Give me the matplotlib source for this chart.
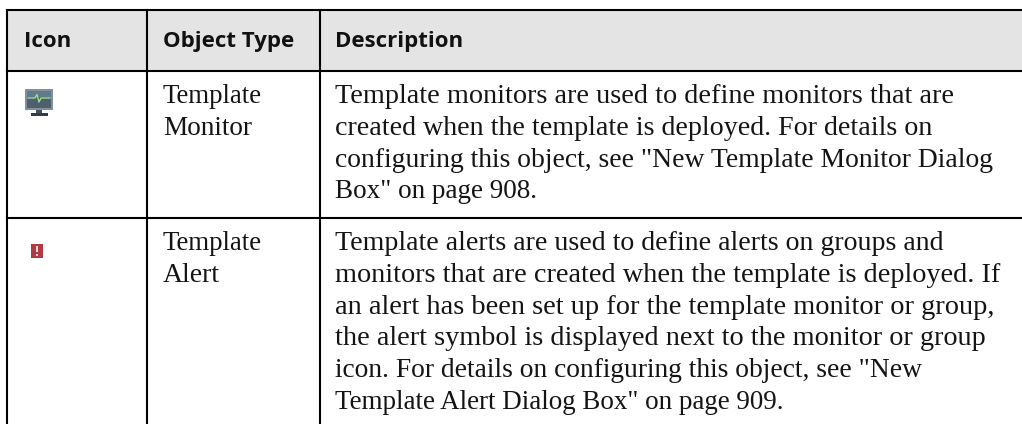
import matplotlib
matplotlib.use("Agg")
import matplotlib.pyplot as plt
from matplotlib.patches import Rectangle

W, H = 1022, 424
FONT = ["Open Sans", "DejaVu Sans"]
SERIF = ["Liberation Serif", "DejaVu Serif"]

headers = ["Icon", "Object Type", "Description"]
types = [["Template", "Monitor"], ["Template", "Alert"]]
desc = [
    ["Template monitors are used to define monitors that are",
     "created when the template is deployed. For details on",
     "configuring this object, see \"New Template Monitor Dialog",
     "Box\" on page 908."],
    ["Template alerts are used to define alerts on groups and",
     "monitors that are created when the template is deployed. If",
     "an alert has been set up for the template monitor or group,",
     "the alert symbol is displayed next to the monitor or group",
     "icon. For details on configuring this object, see \"New",
     "Template Alert Dialog Box\" on page 909."],
]
# right edges of each text line (px)
type_right = [[263, 252], [263, 220]]
desc_right = [[953, 932, 992, 537], [943, 998, 993, 985, 923, 785]]

col_x = [7, 147, 320]
row_y = [10, 71, 217.5]
text_x = [24, 163, 335]
row_base = [103, 250]
line_h = 31.8
TEXT = "#141414"

fig = plt.figure(figsize=(W / 100, H / 100), dpi=100)
ax = fig.add_axes([0, 0, 1, 1])
ax.set_xlim(0, W)
ax.set_ylim(H, 0)
ax.axis("off")
rend = fig.canvas.get_renderer()


def fitted(x, y, s, right):
    t = ax.text(x, y, s, fontsize=20, family=SERIF, va="baseline", ha="left", color=TEXT)
    t.set_fontsize(20 * (right - x) / t.get_window_extent(rend).width)


ax.add_patch(Rectangle((col_x[0], row_y[0]), W - col_x[0], row_y[1] - row_y[0], color="#e4e4e4", lw=0))
for x in col_x:
    ax.plot([x, x], [row_y[0], H], color="black", lw=1.5, solid_capstyle="projecting")
for y in row_y:
    ax.plot([col_x[0], W], [y, y], color="black", lw=1.5, solid_capstyle="projecting")

for x, h in zip(text_x, headers):
    ax.text(x, 47, h, fontsize=16, fontweight="bold", family=FONT, va="baseline", ha="left", color="#111111")
for ry, lines, rights in zip(row_base, types, type_right):
    for i, (s, r) in enumerate(zip(lines, rights)):
        fitted(text_x[1], ry + i * line_h, s, r)
for ry, lines, rights in zip(row_base, desc, desc_right):
    for i, (s, r) in enumerate(zip(lines, rights)):
        fitted(text_x[2], ry + i * line_h, s, r)

# monitor icon
ax.add_patch(Rectangle((25, 88.5), 28, 21, color="#7d91a1", lw=0))
ax.add_patch(Rectangle((27, 91), 24, 16.5, color="#4f606d", lw=0))
ax.add_patch(Rectangle((27, 91), 24, 6, color="#64798a", lw=0))
ax.plot([28, 35, 37, 39, 41, 50], [98, 98, 94.5, 102, 98, 98], color="#9be08a", lw=1)
ax.add_patch(Rectangle((36, 109.5), 6, 3.5, color="#44505c", lw=0))
ax.add_patch(Rectangle((31, 113), 17, 3, color="#333d47", lw=0))
# alert icon
ax.add_patch(Rectangle((31, 244), 12, 14, color="#b23a44", lw=0))
ax.add_patch(Rectangle((36, 246), 2.4, 6, color="#f3d6d8", lw=0))
ax.add_patch(Rectangle((36, 254), 2.4, 2.2, color="#f3d6d8", lw=0))

fig.savefig("out.png", dpi=100)
